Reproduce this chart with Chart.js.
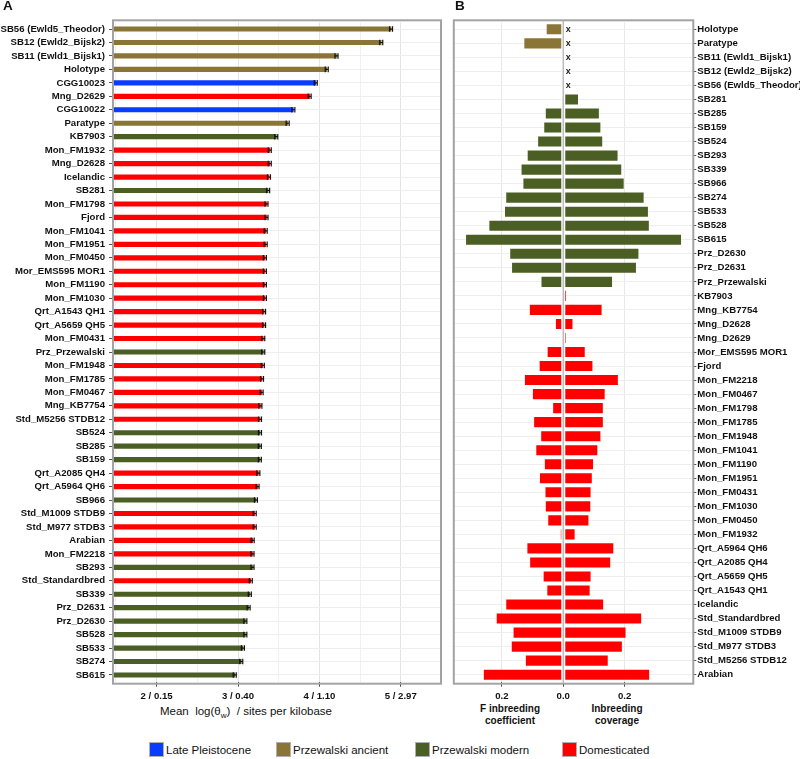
<!DOCTYPE html>
<html>
<head>
<meta charset="utf-8">
<script src="https://cdn.jsdelivr.net/npm/chart.js@4.4.0/dist/chart.umd.min.js"></script>
<style>
body { margin: 0; background: #fff; font-family: "Liberation Sans", Arial, sans-serif; color: #111; }
#page { position: relative; width: 800px; height: 759px; overflow: hidden; }
canvas { position: absolute; top: 0; }
#chartA { left: 0; }
#chartB { left: 447px; }
.panel { position: absolute; top: -2px; font-weight: bold; font-size: 13.5px; }
.title { position: absolute; text-align: center; }
.legend-item { position: absolute; top: 742px; font-size: 11.5px; display: flex; align-items: center; }
.swatch { width: 13px; height: 13px; margin-right: 2px; border: 1px solid #b0b0b0; }
</style>
</head>
<body>
<div id="page">
  <canvas id="chartA" width="447" height="700"></canvas>
  <canvas id="chartB" width="353" height="700"></canvas>
  <div class="panel" style="left:3px">A</div>
  <div class="panel" style="left:455px">B</div>
  <div class="title" style="left:136px; width:220px; top:705px; font-size:11.5px">Mean&nbsp; log(θ<sub style="font-size:8px">w</sub>)&nbsp; / sites per kilobase</div>
  <div class="title" style="left:460px; width:100px; top:703px; font-size:10px; font-weight:bold; line-height:12px">F inbreeding<br>coefficient</div>
  <div class="title" style="left:567px; width:100px; top:703px; font-size:10px; font-weight:bold; line-height:12px">Inbreeding<br>coverage</div>
  <div id="legend"></div>
</div>
<script>
// panel A: mean log(theta_w), sorted as in the figure
let catsA = ['SB56 (Ewld5_Theodor)', 'SB12 (Ewld2_Bijsk2)', 'SB11 (Ewld1_Bijsk1)', 'Holotype', 'CGG10023',
    'Mng_D2629', 'CGG10022', 'Paratype', 'KB7903', 'Mon_FM1932', 'Mng_D2628', 'Icelandic', 'SB281',
    'Mon_FM1798', 'Fjord', 'Mon_FM1041', 'Mon_FM1951', 'Mon_FM0450', 'Mor_EMS595 MOR1', 'Mon_FM1190',
    'Mon_FM1030', 'Qrt_A1543 QH1', 'Qrt_A5659 QH5', 'Mon_FM0431', 'Prz_Przewalski', 'Mon_FM1948',
    'Mon_FM1785', 'Mon_FM0467', 'Mng_KB7754', 'Std_M5256 STDB12', 'SB524', 'SB285', 'SB159',
    'Qrt_A2085 QH4', 'Qrt_A5964 QH6', 'SB966', 'Std_M1009 STDB9', 'Std_M977 STDB3', 'Arabian',
    'Mon_FM2218', 'SB293', 'Std_Standardbred', 'SB339', 'Prz_D2631', 'Prz_D2630', 'SB528', 'SB533',
    'SB274', 'SB615'];
let thetaA = [4.88, 4.76, 4.21, 4.09, 3.955, 3.88, 3.68, 3.61, 3.47, 3.39, 3.39, 3.38, 3.37,
    3.35, 3.35, 3.34, 3.34, 3.33, 3.33, 3.33, 3.33, 3.32, 3.32, 3.31, 3.31, 3.305,
    3.295, 3.29, 3.275, 3.27, 3.27, 3.268, 3.268, 3.25, 3.24, 3.22, 3.205, 3.205, 3.18,
    3.178, 3.178, 3.157, 3.145, 3.13, 3.09, 3.09, 3.06, 3.04, 2.96];
let groupA = ['anc', 'anc', 'anc', 'anc', 'lp', 'dom', 'lp', 'anc', 'mod', 'dom', 'dom', 'dom', 'mod',
    'dom', 'dom', 'dom', 'dom', 'dom', 'dom', 'dom', 'dom', 'dom', 'dom', 'dom', 'mod', 'dom',
    'dom', 'dom', 'dom', 'dom', 'mod', 'mod', 'mod', 'dom', 'dom', 'mod', 'dom', 'dom', 'dom',
    'dom', 'mod', 'dom', 'mod', 'mod', 'mod', 'mod', 'mod', 'mod', 'mod'];
let tickValuesA = [2, 3, 4, 5];
let tickLabelsA = ['2 / 0.15', '3 / 0.40', '4 / 1.10', '5 / 2.97'];
let gridValuesA = [1.5, 2, 2.5, 3, 3.5, 4, 4.5, 5];

// panel B: F inbreeding coefficient (drawn to the left) and inbreeding coverage
let catsB = ['Holotype', 'Paratype', 'SB11 (Ewld1_Bijsk1)', 'SB12 (Ewld2_Bijsk2)', 'SB56 (Ewld5_Theodor)',
    'SB281', 'SB285', 'SB159', 'SB524', 'SB293', 'SB339', 'SB966', 'SB274', 'SB533', 'SB528', 'SB615',
    'Prz_D2630', 'Prz_D2631', 'Prz_Przewalski', 'KB7903', 'Mng_KB7754', 'Mng_D2628', 'Mng_D2629',
    'Mor_EMS595 MOR1', 'Fjord', 'Mon_FM2218', 'Mon_FM0467', 'Mon_FM1798', 'Mon_FM1785', 'Mon_FM1948',
    'Mon_FM1041', 'Mon_FM1190', 'Mon_FM1951', 'Mon_FM0431', 'Mon_FM1030', 'Mon_FM0450', 'Mon_FM1932',
    'Qrt_A5964 QH6', 'Qrt_A2085 QH4', 'Qrt_A5659 QH5', 'Qrt_A1543 QH1', 'Icelandic', 'Std_Standardbred',
    'Std_M1009 STDB9', 'Std_M977 STDB3', 'Std_M5256 STDB12', 'Arabian'];
let fInbreeding = [0.054, 0.127, 0, 0, 0, 0, 0.057, 0.062, 0.082, 0.116, 0.136, 0.130, 0.186, 0.190,
    0.241, 0.317, 0.173, 0.167, 0.071, 0, 0.109, 0.024, 0, 0.051, 0.077, 0.125, 0.099, 0.033, 0.095,
    0.072, 0.088, 0.060, 0.076, 0.058, 0.057, 0.049, 0.008, 0.117, 0.108, 0.064, 0.052, 0.186, 0.217,
    0.162, 0.168, 0.122, 0.259];
let coverage = [null, null, null, null, null, 0.048, 0.116, 0.121, 0.127, 0.177, 0.189, 0.197, 0.262,
    0.276, 0.279, 0.384, 0.245, 0.237, 0.159, 0.009, 0.125, 0.030, 0.008, 0.070, 0.095, 0.178, 0.135,
    0.129, 0.129, 0.121, 0.111, 0.097, 0.093, 0.089, 0.088, 0.082, 0.037, 0.163, 0.153, 0.089, 0.086,
    0.130, 0.254, 0.203, 0.191, 0.145, 0.280];
let groupB = ['anc', 'anc', 'anc', 'anc', 'anc', 'mod', 'mod', 'mod', 'mod', 'mod', 'mod', 'mod', 'mod',
    'mod', 'mod', 'mod', 'mod', 'mod', 'mod', 'dom', 'dom', 'dom', 'dom', 'dom', 'dom', 'dom', 'dom',
    'dom', 'dom', 'dom', 'dom', 'dom', 'dom', 'dom', 'dom', 'dom', 'dom', 'dom', 'dom', 'dom', 'dom',
    'dom', 'dom', 'dom', 'dom', 'dom', 'dom'];
let tickValuesB = [-0.2, 0, 0.2];

let groupNames = { lp: 'Late Pleistocene', anc: 'Przewalski ancient', mod: 'Przewalski modern', dom: 'Domesticated' };
let groupColors = { lp: '#0a3cff', anc: '#8b7536', mod: '#4b5e23', dom: '#ff0000' };

let tickFont = { family: '"Liberation Sans", Arial, sans-serif', size: 9.6, weight: 'bold' };

// grey box round the plot area, a little taller than the bars
let framePlugin = {
    id: 'frame',
    afterDraw(chart) {
        let a = chart.chartArea, ctx = chart.ctx;
        ctx.save();
        ctx.strokeStyle = '#a3a3a3';
        ctx.lineWidth = 2;
        ctx.strokeRect(a.left, a.top - 2, a.right - a.left, a.bottom - a.top + 4);
        ctx.restore();
    }
};

// small error marks at the end of each bar in panel A
let errPlugin = {
    id: 'errMarks',
    afterDatasetsDraw(chart) {
        let ctx = chart.ctx;
        ctx.save();
        ctx.strokeStyle = '#111';
        ctx.lineWidth = 1.2;
        chart.getDatasetMeta(0).data.forEach(el => {
            ctx.beginPath();
            ctx.moveTo(el.x - 1.5, el.y - 2.8); ctx.lineTo(el.x - 1.5, el.y + 2.8);
            ctx.moveTo(el.x + 1.5, el.y - 2.8); ctx.lineTo(el.x + 1.5, el.y + 2.8);
            ctx.moveTo(el.x - 1.5, el.y); ctx.lineTo(el.x + 1.5, el.y);
            ctx.stroke();
        });
        ctx.restore();
    }
};

// zero line over the bars and "x" where no coverage was estimated
let zeroPlugin = {
    id: 'zeroLine',
    afterDatasetsDraw(chart) {
        let ctx = chart.ctx, a = chart.chartArea;
        let x0 = chart.scales.x.getPixelForValue(0);
        ctx.save();
        ctx.strokeStyle = '#ffffff';
        ctx.lineWidth = 4;
        ctx.beginPath(); ctx.moveTo(x0, a.top - 2); ctx.lineTo(x0, a.bottom + 2); ctx.stroke();
        ctx.strokeStyle = '#bdbdbd';
        ctx.lineWidth = 1.5;
        ctx.beginPath(); ctx.moveTo(x0, a.top - 2); ctx.lineTo(x0, a.bottom + 2); ctx.stroke();
        ctx.fillStyle = '#222';
        ctx.font = 'bold 9px "Liberation Sans", Arial, sans-serif';
        ctx.textBaseline = 'middle';
        for (let i = 0; i < coverage.length; i++) {
            if (coverage[i] === null) {
                ctx.fillText('x', x0 + 2.5, chart.scales.y.getPixelForValue(i));
            }
        }
        ctx.restore();
    }
};

new Chart(document.getElementById('chartA'), {
    type: 'bar',
    data: {
        labels: catsA,
        datasets: [{
            data: thetaA,
            backgroundColor: groupA.map(g => groupColors[g]),
            barThickness: 4.5,
            borderWidth: 0
        }]
    },
    options: {
        indexAxis: 'y',
        responsive: false,
        animation: false,
        layout: { padding: { top: 22.3, right: 6, bottom: 0, left: 0 } },
        plugins: { legend: { display: false }, tooltip: { enabled: false } },
        scales: {
            x: {
                min: 1.464,
                max: 5.494,
                afterBuildTicks: s => { s.ticks = gridValuesA.map(v => ({ value: v })); },
                afterFit: s => { s.height = 18.3; },
                border: { display: false },
                grid: {
                    color: c => tickValuesA.includes(c.tick.value) ? '#e4e4e4' : '#f1f1f1',
                    tickColor: c => tickValuesA.includes(c.tick.value) ? '#444' : 'rgba(0,0,0,0)',
                    tickLength: 5
                },
                ticks: {
                    autoSkip: false,
                    maxRotation: 0,
                    padding: 4,
                    color: '#111',
                    font: tickFont,
                    callback: v => {
                        let i = tickValuesA.indexOf(v);
                        return i >= 0 ? tickLabelsA[i] : '';
                    }
                }
            },
            y: {
                afterFit: s => { s.width = 113; },
                border: { display: false },
                grid: { offset: false, color: '#eeeeee', tickColor: '#555', tickLength: 4 },
                ticks: { autoSkip: false, padding: 4, color: '#111', font: tickFont }
            }
        }
    },
    plugins: [framePlugin, errPlugin]
});

new Chart(document.getElementById('chartB'), {
    type: 'bar',
    data: {
        labels: catsB,
        datasets: [{
            label: 'F inbreeding coefficient',
            data: fInbreeding.map(v => -v),
            backgroundColor: groupB.map(g => groupColors[g]),
            barPercentage: 0.72,
            categoryPercentage: 1,
            borderWidth: 0
        }, {
            label: 'Inbreeding coverage',
            data: coverage,
            backgroundColor: groupB.map(g => groupColors[g]),
            barPercentage: 0.72,
            categoryPercentage: 1,
            borderWidth: 0
        }]
    },
    options: {
        indexAxis: 'y',
        responsive: false,
        animation: false,
        layout: { padding: { top: 22.3, right: 0, bottom: 0, left: 6.8 } },
        plugins: { legend: { display: false }, tooltip: { enabled: false } },
        scales: {
            x: {
                stacked: true,
                min: -0.357,
                max: 0.424,
                afterBuildTicks: s => { s.ticks = tickValuesB.map(v => ({ value: v })); },
                afterFit: s => { s.height = 18.3; },
                border: { display: false },
                grid: { color: '#e8e8e8', tickColor: '#444', tickLength: 5 },
                ticks: {
                    autoSkip: false,
                    maxRotation: 0,
                    padding: 4,
                    color: '#111',
                    font: tickFont,
                    callback: v => Math.abs(v).toFixed(1)
                }
            },
            y: {
                stacked: true,
                position: 'right',
                afterFit: s => { s.width = 106.7; },
                border: { display: false },
                grid: { offset: false, color: '#eeeeee', tickColor: '#555', tickLength: 3 },
                ticks: { autoSkip: false, padding: 1, color: '#111', font: tickFont }
            }
        }
    },
    plugins: [framePlugin, zeroPlugin]
});

// legend across the bottom of both panels
let legendEl = document.getElementById('legend');
let legendLeft = { lp: 149, anc: 276, mod: 415, dom: 562 };
Object.keys(groupNames).forEach(k => {
    let item = document.createElement('div');
    item.className = 'legend-item';
    item.style.left = legendLeft[k] + 'px';
    let sw = document.createElement('div');
    sw.className = 'swatch';
    sw.style.background = groupColors[k];
    let txt = document.createElement('span');
    txt.textContent = groupNames[k];
    item.appendChild(sw);
    item.appendChild(txt);
    legendEl.appendChild(item);
});
</script>
</body>
</html>
